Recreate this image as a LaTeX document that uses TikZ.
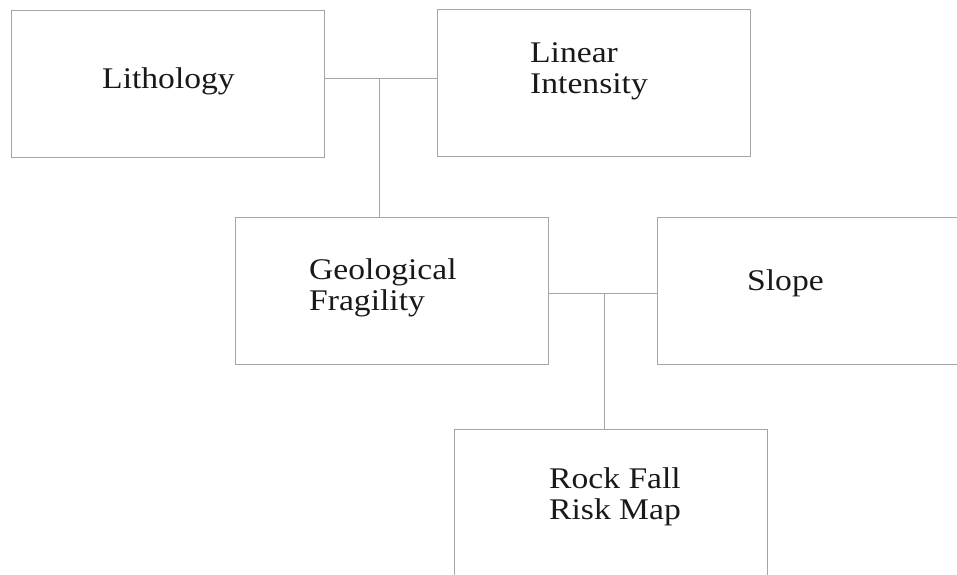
\documentclass[tikz,border=0pt]{standalone}
\usepackage{fontspec}
\newfontfamily\boxfont[FakeStretch=1.12]{Liberation Serif}
\definecolor{edgegray}{RGB}{165,165,165}

\begin{document}
\begin{tikzpicture}[x=1pt,y=-1pt,
    box/.style={draw=edgegray, line width=1pt, minimum width=313pt, minimum height=147pt, inner sep=0pt},
    txt/.style={font=\boxfont\fontsize{30}{31}\selectfont, text=black!90, inner sep=0pt, align=left},
    link/.style={draw=edgegray, line width=1pt}]
                    \clip (0,0) rectangle (957,574);
                    % Boxes
                    \node[box] (lit) at (167.5,83.5) {};
                    \node[box] (lin) at (593.5,83) {};
                    \node[box] (geo) at (392,290.5) {};
                    \node[box] (slo) at (813.5,291) {};
                    \node[box] (rock) at (610.5,503) {};
                    % Texts
                    \node[txt, anchor=base] (lit-t) at (168.5,88) {Lithology};
                    \node[txt, anchor=north west] (lin-t) at (530,42.5) {Linear\\Intensity};
                    \node[txt, anchor=north west] (geo-t) at (309,258.5) {Geological\\Fragility};
                    \node[txt, anchor=base west] (slo-t) at (747,290) {Slope};
                    \node[txt, anchor=north west] (rock-t) at (549,467.5) {Rock Fall\\Risk Map};
                    % Links
                    \coordinate (j1) at (379,78);
                    \coordinate (j2) at (604,293);
                    \draw[link] (lit.east |- j1) -- (lin.west |- j1);
                    \draw[link] (j1) -- (j1 |- geo.north);
                    \draw[link] (geo.east |- j2) -- (slo.west |- j2);
                    \draw[link] (j2) -- (j2 |- rock.north);
                \end{tikzpicture}
\end{document}
